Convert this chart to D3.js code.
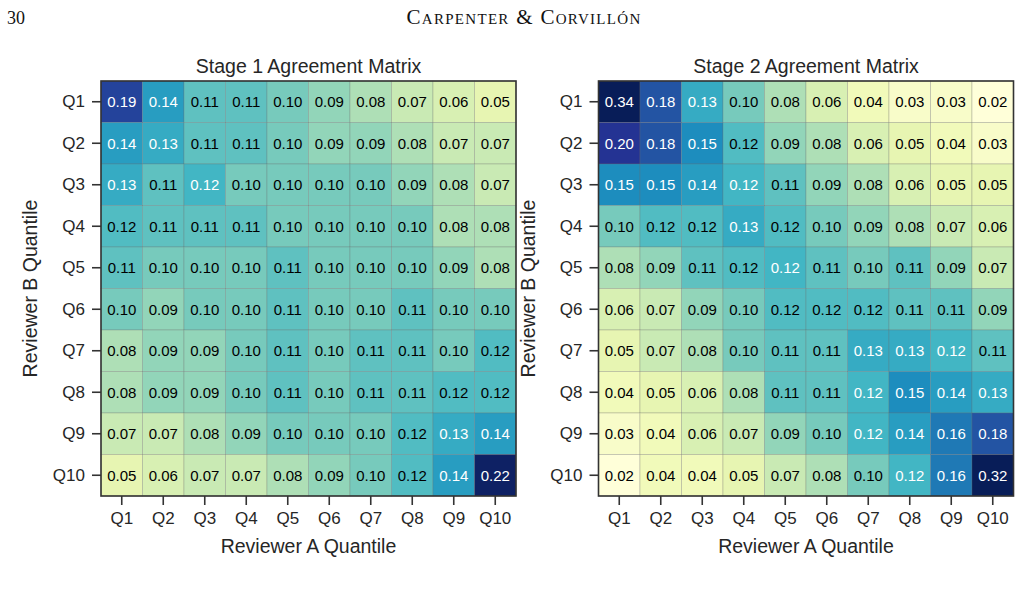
<!DOCTYPE html>
<html lang="en">
<head>
<meta charset="UTF-8">
<title>Agreement Matrices</title>
<script src="https://cdn.jsdelivr.net/npm/d3@7"></script>
<style>
  body { margin: 0; background: #fff; }
  svg { display: block; }
</style>
</head>
<body>
<svg width="1020" height="592"></svg>
<script>
// quantile labels (both axes)
var quantiles = ["Q1", "Q2", "Q3", "Q4", "Q5", "Q6", "Q7", "Q8", "Q9", "Q10"];

// rows = Reviewer B quantile, columns = Reviewer A quantile
var stage1Values = [
  [0.19, 0.14, 0.11, 0.11, 0.10, 0.09, 0.08, 0.07, 0.06, 0.05],
  [0.14, 0.13, 0.11, 0.11, 0.10, 0.09, 0.09, 0.08, 0.07, 0.07],
  [0.13, 0.11, 0.122, 0.10, 0.10, 0.10, 0.10, 0.09, 0.08, 0.07],
  [0.116, 0.11, 0.11, 0.11, 0.10, 0.10, 0.10, 0.10, 0.08, 0.08],
  [0.11, 0.10, 0.10, 0.10, 0.11, 0.10, 0.10, 0.10, 0.09, 0.08],
  [0.10, 0.09, 0.10, 0.10, 0.11, 0.10, 0.10, 0.11, 0.10, 0.10],
  [0.08, 0.09, 0.09, 0.10, 0.11, 0.10, 0.11, 0.11, 0.10, 0.116],
  [0.08, 0.09, 0.09, 0.10, 0.11, 0.10, 0.11, 0.11, 0.116, 0.116],
  [0.07, 0.07, 0.08, 0.09, 0.10, 0.10, 0.10, 0.116, 0.13, 0.14],
  [0.05, 0.06, 0.07, 0.07, 0.08, 0.09, 0.10, 0.116, 0.14, 0.22]
];

var stage2Values = [
  [0.34, 0.18, 0.13, 0.10, 0.08, 0.06, 0.04, 0.03, 0.03, 0.02],
  [0.20, 0.18, 0.15, 0.116, 0.09, 0.08, 0.06, 0.05, 0.04, 0.03],
  [0.15, 0.15, 0.14, 0.122, 0.11, 0.09, 0.08, 0.06, 0.05, 0.05],
  [0.10, 0.116, 0.116, 0.13, 0.116, 0.10, 0.09, 0.08, 0.07, 0.06],
  [0.08, 0.09, 0.11, 0.116, 0.122, 0.11, 0.10, 0.11, 0.09, 0.07],
  [0.06, 0.07, 0.09, 0.10, 0.116, 0.116, 0.116, 0.11, 0.11, 0.09],
  [0.05, 0.07, 0.08, 0.10, 0.11, 0.11, 0.13, 0.13, 0.122, 0.11],
  [0.04, 0.05, 0.06, 0.08, 0.11, 0.11, 0.122, 0.15, 0.14, 0.13],
  [0.03, 0.04, 0.06, 0.07, 0.09, 0.10, 0.122, 0.14, 0.16, 0.18],
  [0.02, 0.04, 0.04, 0.05, 0.07, 0.08, 0.10, 0.122, 0.16, 0.32]
];

var panelTitles = ["Stage 1 Agreement Matrix", "Stage 2 Agreement Matrix"];

// colour limits shared by both panels
var colorMin = 0.02, colorMax = 0.225;

var svg = d3.select("svg");
var sans = "'Liberation Sans', Arial, sans-serif";
var ink = "#262626";

// running header of the page
svg.append("text")
  .attr("x", 7).attr("y", 24)
  .attr("font-family", "'Liberation Serif', serif")
  .attr("font-size", 18)
  .attr("fill", "#111")
  .text("30");
svg.append("text")
  .attr("x", 524).attr("y", 24)
  .attr("text-anchor", "middle")
  .attr("font-family", "'Liberation Serif', serif")
  .attr("font-size", 21)
  .attr("letter-spacing", 1.3)
  .attr("font-variant", "small-caps")
  .attr("fill", "#111")
  .text("Carpenter & Corvillón");

// YlGnBu, linearly interpolated like matplotlib
var ylgnbu = ["#ffffd9", "#edf8b1", "#c7e9b4", "#7fcdbb", "#41b6c4", "#1d91c0", "#225ea8", "#253494", "#081d58"];
var color = d3.scaleLinear()
  .domain(d3.range(ylgnbu.length).map(function(i) { return colorMin + (colorMax - colorMin) * i / (ylgnbu.length - 1); }))
  .range(ylgnbu)
  .clamp(true);

function luminance(c) {
  var rgb = d3.rgb(c);
  var lin = [rgb.r, rgb.g, rgb.b].map(function(v) {
    v = v / 255;
    return v <= 0.03928 ? v / 12.92 : Math.pow((v + 0.055) / 1.055, 2.4);
  });
  return 0.2126 * lin[0] + 0.7152 * lin[1] + 0.0722 * lin[2];
}

var panels = [
  { left: 101, values: stage1Values, title: panelTitles[0] },
  { left: 598.5, values: stage2Values, title: panelTitles[1] }
];
var plotTop = 81, size = 415;

panels.forEach(function(p) {
  var g = svg.append("g").attr("transform", "translate(" + p.left + "," + plotTop + ")");

  var x = d3.scaleBand().domain(quantiles).range([0, size]);
  var y = d3.scaleBand().domain(quantiles).range([0, size]);

  var cells = [];
  p.values.forEach(function(row, i) {
    row.forEach(function(v, j) {
      cells.push({ row: quantiles[i], col: quantiles[j], value: v });
    });
  });

  g.selectAll("rect.cell")
    .data(cells)
    .join("rect")
    .attr("class", "cell")
    .attr("x", function(d) { return x(d.col); })
    .attr("y", function(d) { return y(d.row); })
    .attr("width", x.bandwidth())
    .attr("height", y.bandwidth())
    .attr("fill", function(d) { return color(d.value); })
    .attr("stroke", "rgba(110,110,110,0.35)")
    .attr("stroke-width", 0.8);

  g.selectAll("text.annot")
    .data(cells)
    .join("text")
    .attr("class", "annot")
    .attr("x", function(d) { return x(d.col) + x.bandwidth() / 2; })
    .attr("y", function(d) { return y(d.row) + y.bandwidth() / 2; })
    .attr("dy", "0.36em")
    .attr("text-anchor", "middle")
    .attr("font-family", sans)
    .attr("font-size", 15)
    .attr("fill", function(d) { return luminance(color(d.value)) > 0.408 ? "#000" : "#fff"; })
    .text(function(d) { return d3.format(".2f")(d.value); });

  // frame
  g.append("rect")
    .attr("width", size).attr("height", size)
    .attr("fill", "none")
    .attr("stroke", "#333")
    .attr("stroke-width", 1.6);

  var xAxis = g.append("g")
    .attr("transform", "translate(0," + size + ")")
    .call(d3.axisBottom(x).tickSize(9).tickPadding(7));
  var yAxis = g.append("g")
    .call(d3.axisLeft(y).tickSize(9).tickPadding(7));

  [xAxis, yAxis].forEach(function(ax) {
    ax.select(".domain").remove();
    ax.selectAll(".tick line").attr("stroke", "#333").attr("stroke-width", 1.6);
    ax.selectAll(".tick text")
      .attr("font-family", sans)
      .attr("font-size", 17)
      .attr("fill", ink);
  });

  g.append("text")
    .attr("x", size / 2).attr("y", -8)
    .attr("text-anchor", "middle")
    .attr("font-family", sans)
    .attr("font-size", 19.5)
    .attr("fill", ink)
    .text(p.title);

  g.append("text")
    .attr("x", size / 2).attr("y", size + 57)
    .attr("text-anchor", "middle")
    .attr("font-family", sans)
    .attr("font-size", 19.5)
    .attr("fill", ink)
    .text("Reviewer A Quantile");

  g.append("text")
    .attr("transform", "translate(-64," + size / 2 + ") rotate(-90)")
    .attr("text-anchor", "middle")
    .attr("font-family", sans)
    .attr("font-size", 19.5)
    .attr("fill", ink)
    .text("Reviewer B Quantile");
});
</script>
</body>
</html>
